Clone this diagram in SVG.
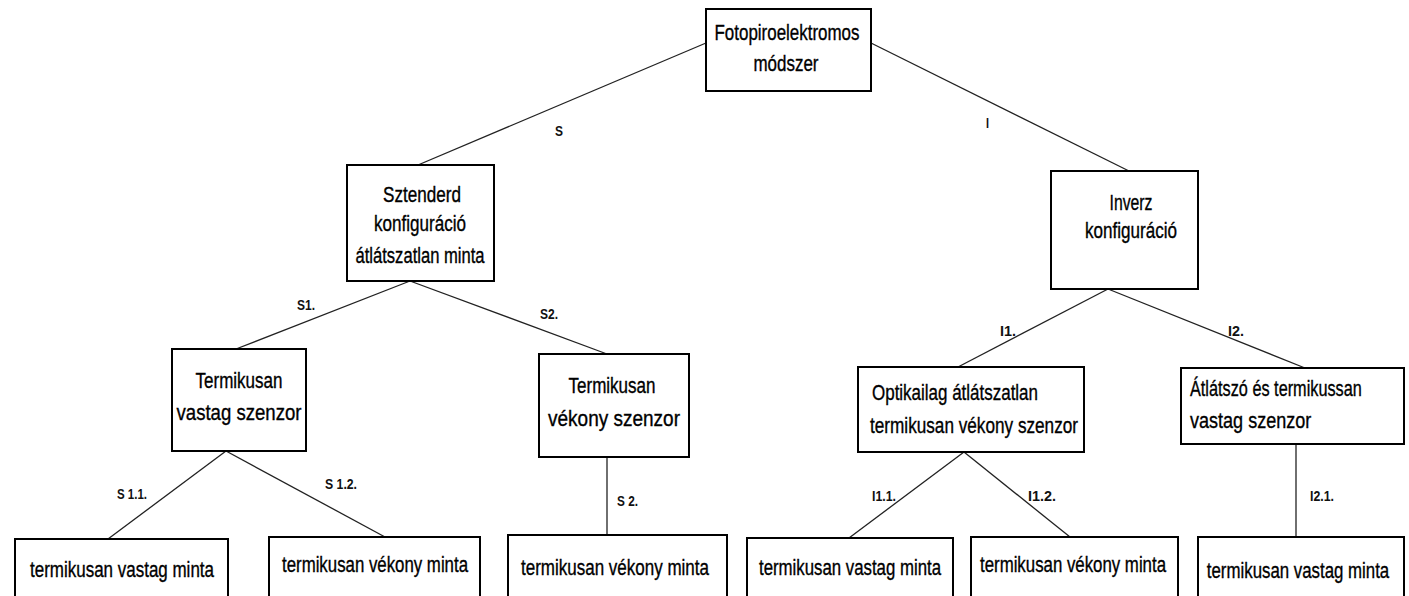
<svg xmlns="http://www.w3.org/2000/svg" width="1409" height="596" viewBox="0 0 1409 596">
<style>
.box{fill:#fff;stroke:#000;stroke-width:2}
.t{font-family:"Liberation Sans",Arial,sans-serif;font-size:22px;fill:#000;stroke:#000;stroke-width:0.35}
.c{text-anchor:middle}
.lbl{font-family:"Liberation Sans",Arial,sans-serif;font-size:15px;font-weight:bold;fill:#111}
.ln{stroke:#222;stroke-width:1.3;fill:none}
</style>
<rect width="1409" height="596" fill="#fff"/>
<g id="connectors">
<line class="ln" x1="706" y1="43" x2="418" y2="165"/>
<line class="ln" x1="871" y1="43" x2="1129" y2="171"/>
<line class="ln" x1="410" y1="281" x2="236" y2="349"/>
<line class="ln" x1="410" y1="281" x2="607" y2="354"/>
<line class="ln" x1="1108" y1="289" x2="958" y2="367"/>
<line class="ln" x1="1108" y1="289" x2="1305" y2="368"/>
<line class="ln" x1="226" y1="451" x2="108" y2="539"/>
<line class="ln" x1="226" y1="451" x2="385" y2="537"/>
<line class="ln" x1="607" y1="457" x2="607" y2="535"/>
<line class="ln" x1="964" y1="452" x2="849" y2="538"/>
<line class="ln" x1="964" y1="452" x2="1070" y2="537"/>
<line class="ln" x1="1296" y1="444" x2="1296" y2="537"/>
<text class="lbl" x="555" y="136" textLength="8" lengthAdjust="spacingAndGlyphs">S</text>
<text class="lbl" x="986" y="128" textLength="3" lengthAdjust="spacingAndGlyphs">I</text>
<text class="lbl" x="297" y="310" textLength="18" lengthAdjust="spacingAndGlyphs">S1.</text>
<text class="lbl" x="540" y="319" textLength="18" lengthAdjust="spacingAndGlyphs">S2.</text>
<text class="lbl" x="117" y="499" textLength="30" lengthAdjust="spacingAndGlyphs">S 1.1.</text>
<text class="lbl" x="325" y="489" textLength="32" lengthAdjust="spacingAndGlyphs">S 1.2.</text>
<text class="lbl" x="617" y="506" textLength="21" lengthAdjust="spacingAndGlyphs">S 2.</text>
<text class="lbl" x="1000" y="336" textLength="16" lengthAdjust="spacingAndGlyphs">I1.</text>
<text class="lbl" x="1228" y="336" textLength="16" lengthAdjust="spacingAndGlyphs">I2.</text>
<text class="lbl" x="872" y="501" textLength="24" lengthAdjust="spacingAndGlyphs">I1.1.</text>
<text class="lbl" x="1028" y="501" textLength="28" lengthAdjust="spacingAndGlyphs">I1.2.</text>
<text class="lbl" x="1310" y="501" textLength="24" lengthAdjust="spacingAndGlyphs">I2.1.</text>
</g>
<g id="n-root">
<rect class="box" x="706" y="9" width="165" height="82"/>
<text class="t c" x="787" y="40" textLength="145" lengthAdjust="spacingAndGlyphs">Fotopiroelektromos</text>
<text class="t c" x="786" y="71" textLength="65" lengthAdjust="spacingAndGlyphs">módszer</text>
</g>
<g id="n-s">
<rect class="box" x="347" y="165" width="147" height="116"/>
<text class="t c" x="422" y="202" textLength="78" lengthAdjust="spacingAndGlyphs">Sztenderd</text>
<text class="t c" x="420" y="231" textLength="92" lengthAdjust="spacingAndGlyphs">konfiguráció</text>
<text class="t c" x="420" y="263" textLength="129" lengthAdjust="spacingAndGlyphs">átlátszatlan minta</text>
</g>
<g id="n-i">
<rect class="box" x="1051" y="171" width="147" height="118"/>
<text class="t c" x="1131" y="210" textLength="43" lengthAdjust="spacingAndGlyphs">Inverz</text>
<text class="t c" x="1131" y="238" textLength="92" lengthAdjust="spacingAndGlyphs">konfiguráció</text>
</g>
<g id="n-s1">
<rect class="box" x="172" y="349" width="134" height="102"/>
<text class="t c" x="239" y="388" textLength="87" lengthAdjust="spacingAndGlyphs">Termikusan</text>
<text class="t c" x="239" y="420" textLength="125" lengthAdjust="spacingAndGlyphs">vastag szenzor</text>
</g>
<g id="n-s2">
<rect class="box" x="539" y="354" width="150" height="103"/>
<text class="t c" x="612" y="393" textLength="87" lengthAdjust="spacingAndGlyphs">Termikusan</text>
<text class="t c" x="614" y="426" textLength="132" lengthAdjust="spacingAndGlyphs">vékony szenzor</text>
</g>
<g id="n-i1">
<rect class="box" x="858" y="367" width="226" height="85"/>
<text class="t" x="872" y="400" textLength="166" lengthAdjust="spacingAndGlyphs">Optikailag átlátszatlan</text>
<text class="t" x="870" y="433" textLength="208" lengthAdjust="spacingAndGlyphs">termikusan vékony szenzor</text>
</g>
<g id="n-i2">
<rect class="box" x="1181" y="368" width="223" height="76"/>
<text class="t" transform="translate(1190,396) scale(0.74,1)" x="0" y="0">Átlátszó és termikussan</text>
<text class="t" transform="translate(1190,428) scale(0.82,1)" x="0" y="0">vastag szenzor</text>
</g>
<g id="n-s11">
<rect class="box" x="15" y="539" width="213" height="70"/>
<text class="t c" x="122" y="577" textLength="184" lengthAdjust="spacingAndGlyphs">termikusan vastag minta</text>
</g>
<g id="n-s12">
<rect class="box" x="269" y="537" width="211" height="70"/>
<text class="t c" x="375" y="572" textLength="186" lengthAdjust="spacingAndGlyphs">termikusan vékony minta</text>
</g>
<g id="n-s21">
<rect class="box" x="508" y="535" width="219" height="72"/>
<text class="t c" x="615" y="575" textLength="188" lengthAdjust="spacingAndGlyphs">termikusan vékony minta</text>
</g>
<g id="n-i11">
<rect class="box" x="747" y="538" width="206" height="70"/>
<text class="t c" x="850" y="575" textLength="182" lengthAdjust="spacingAndGlyphs">termikusan vastag minta</text>
</g>
<g id="n-i12">
<rect class="box" x="971" y="537" width="207" height="70"/>
<text class="t c" x="1073" y="572" textLength="186" lengthAdjust="spacingAndGlyphs">termikusan vékony minta</text>
</g>
<g id="n-i21">
<rect class="box" x="1198" y="537" width="206" height="70"/>
<text class="t c" transform="translate(1298,578) scale(0.765,1)" x="0" y="0">termikusan vastag minta</text>
</g>
</svg>
